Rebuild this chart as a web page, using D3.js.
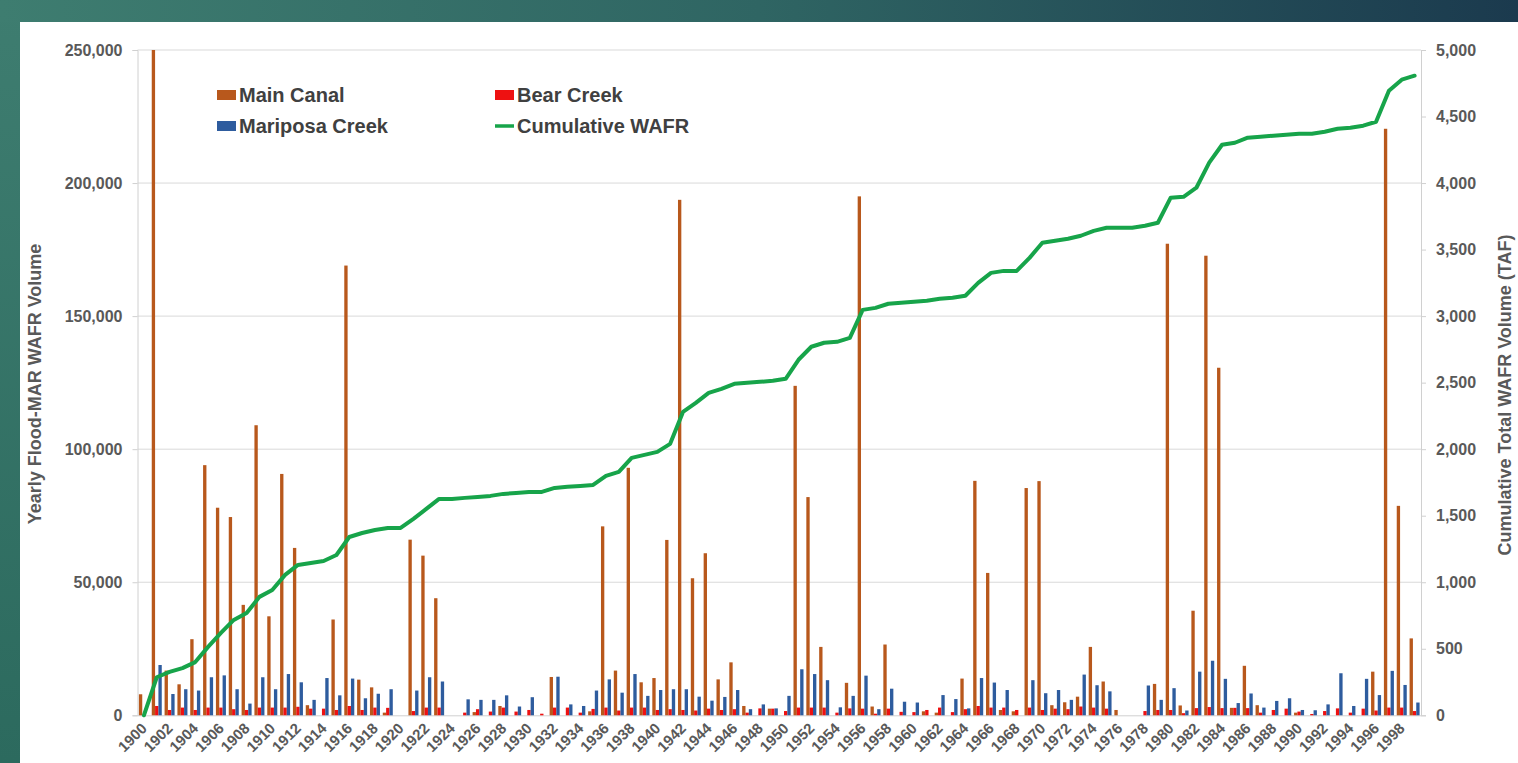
<!DOCTYPE html>
<html><head><meta charset="utf-8">
<script src="https://cdn.jsdelivr.net/npm/d3@7"></script>
<style>
html,body{margin:0;padding:0;background:#fff;overflow:hidden;}
svg{display:block;}
text{font-family:"Liberation Sans",Arial,sans-serif;font-weight:bold;}
</style></head><body>
<svg id="chart" width="1518" height="763"></svg>
<script>
const years = d3.range(1900, 2000);
const mainCanal = [
 7900,250000,16800,11650,28600,94000,78000,74500,41500,109000,
 37200,90700,62900,3800,0,36000,169000,13400,10500,1000,
 0,66000,60000,44000,0,0,1200,0,3500,0,
 0,0,14400,0,0,1500,71000,16800,93000,12400,
 14000,65900,193700,51500,60900,13500,19900,3500,0,2500,
 0,123800,82000,25700,0,12200,195000,3300,26600,0,
 0,1500,1000,0,13800,88100,53500,2000,1500,85400,
 88000,3800,4900,7000,25700,12700,2000,0,0,11800,
 177200,3700,39300,172700,130600,2800,18600,3800,0,0,
 1000,0,0,0,0,0,16400,220400,78700,28900];
const bearCreek = [
 0,3500,2000,2900,2000,2900,2900,2300,2000,2900,
 2900,2900,3200,2500,2500,2000,3500,2000,2900,2800,
 0,1600,2900,2900,0,1000,2300,1400,2900,1400,
 2000,600,2900,2900,1000,2400,2900,1800,2900,2900,
 2000,2300,2000,1800,2500,2000,2300,1000,2600,2500,
 1600,2900,2900,2900,1000,2600,2500,600,2500,1300,
 1200,2000,2900,1200,2300,3500,2900,2900,2000,2900,
 2000,2500,2300,3300,2900,2500,0,0,1600,2000,
 2000,800,2700,3100,2700,2800,2700,1000,2000,2500,
 1400,500,1600,2600,1000,2500,1800,2900,2900,1600];
const mariposaCreek = [
 0,18900,8000,9800,9300,14300,15000,9800,4400,14300,
 9800,15500,12400,5800,14000,7500,13800,6400,8100,9800,
 0,9300,14300,12700,0,6000,5800,5800,7500,3300,
 6800,0,14500,4100,3500,9300,13500,8500,15500,7300,
 9500,9800,9800,7000,5500,6900,9500,2300,4100,2600,
 7300,17300,15500,13200,3000,7300,14900,2300,10000,5100,
 4800,0,7600,6100,2600,14000,12300,9500,0,13200,
 8300,9500,5800,15300,11300,9000,0,0,11200,5800,
 10200,1800,16400,20500,13700,4600,8200,2900,5400,6400,
 2000,1900,4100,15800,3500,13700,7600,16700,11400,4800];
const cumulativeWAFR = [
 0,286,326,355,400,514,619,717,769,890,
 942,1055,1130,1145,1160,1205,1340,1370,1393,1408,
 1408,1476,1551,1626,1626,1634,1641,1649,1664,1671,
 1679,1679,1709,1717,1724,1731,1799,1829,1935,1957,
 1980,2040,2280,2348,2423,2453,2491,2499,2506,2514,
 2529,2672,2770,2800,2807,2837,3047,3062,3093,3100,
 3108,3115,3130,3138,3153,3250,3325,3340,3340,3438,
 3551,3566,3581,3604,3641,3664,3664,3664,3679,3702,
 3890,3897,3965,4153,4288,4303,4341,4348,4356,4363,
 4371,4371,4386,4408,4416,4431,4461,4694,4777,4807];
const leftTicks = [0,50000,100000,150000,200000,250000];
const rightTicks = [0,500,1000,1500,2000,2500,3000,3500,4000,4500,5000];
const xTickYears = years.filter(y => y % 2 === 0);
const seriesNames = ["Main Canal","Bear Creek","Mariposa Creek"];
const seriesData = [mainCanal, bearCreek, mariposaCreek];
const colors = {"Main Canal":"#b8581c","Bear Creek":"#ee1111","Mariposa Creek":"#2e5c9e","Cumulative WAFR":"#17a44a"};

const svg = d3.select("#chart");
const defs = svg.append("defs");
const gTop = defs.append("linearGradient").attr("id","gtop").attr("x1","0").attr("x2","1").attr("y1","0").attr("y2","0");
gTop.append("stop").attr("offset","0").attr("stop-color","#3e7d70");
gTop.append("stop").attr("offset","0.5").attr("stop-color","#2f6563");
gTop.append("stop").attr("offset","1").attr("stop-color","#1b3a4e");
const gLeft = defs.append("linearGradient").attr("id","gleft").attr("x1","0").attr("x2","0").attr("y1","0").attr("y2","1");
gLeft.append("stop").attr("offset","0").attr("stop-color","#3e7d70");
gLeft.append("stop").attr("offset","1").attr("stop-color","#2c6a5e");

svg.append("rect").attr("width",1518).attr("height",763).attr("fill","#ffffff");
svg.append("rect").attr("x",0).attr("y",0).attr("width",20).attr("height",763).attr("fill","url(#gleft)");
svg.append("rect").attr("x",0).attr("y",0).attr("width",1518).attr("height",22).attr("fill","url(#gtop)");

const P = {left:137.5, right:1421, top:50, bottom:715.3};
const x0 = d3.scaleBand().domain(years).range([P.left, P.right]).padding(0);
const bw = x0.bandwidth();
const x1 = d3.scaleBand().domain(seriesNames).range([0.11*bw, 0.89*bw]).padding(0);
const y = d3.scaleLinear().domain([0,250000]).range([P.bottom, P.top]);
const y2 = d3.scaleLinear().domain([0,5000]).range([P.bottom, P.top]);

// gridlines
svg.append("g").selectAll("line").data(leftTicks.filter(d=>d>0)).join("line")
  .attr("x1",P.left).attr("x2",P.right).attr("y1",d=>y(d)).attr("y2",d=>y(d))
  .attr("stroke","#d9d9d9").attr("stroke-width",1);

const FONT = "Liberation Sans, Arial, sans-serif";
// left axis
const axL = svg.append("g").attr("transform",`translate(${P.left},0)`)
  .call(d3.axisLeft(y).tickValues(leftTicks).tickSize(5).tickPadding(10).tickFormat(d3.format(",")));
axL.select(".domain").attr("stroke","#d0d0d0");
axL.selectAll(".tick line").attr("stroke","#d0d0d0");
axL.selectAll("text").attr("fill","#595959").style("font-size","16px").style("font-weight","bold").style("font-family",FONT);

// right axis
const axR = svg.append("g").attr("transform",`translate(${P.right},0)`)
  .call(d3.axisRight(y2).tickValues(rightTicks).tickSize(5).tickPadding(10).tickFormat(d3.format(",")));
axR.select(".domain").attr("stroke","#d0d0d0");
axR.selectAll(".tick line").attr("stroke","#d0d0d0");
axR.selectAll("text").attr("fill","#595959").style("font-size","16px").style("font-weight","bold").style("font-family",FONT);

// bottom axis
const axB = svg.append("g").attr("transform",`translate(0,${P.bottom})`)
  .call(d3.axisBottom(x0).tickValues(xTickYears).tickSize(0).tickPadding(0));
axB.select(".domain").attr("stroke","#d0d0d0");
axB.selectAll("text").attr("fill","#595959").style("font-size","15px").style("font-weight","bold")
  .style("font-family",FONT)
  .attr("text-anchor","end").attr("dy","0")
  .attr("transform","translate(4,14) rotate(-45)").attr("y",0).attr("x",0);

// bars
const barG = svg.append("g");
seriesNames.forEach((s,si)=>{
  barG.append("g").selectAll("rect").data(years.map((yr,i)=>({yr, v:seriesData[si][i]})).filter(d=>d.v>0)).join("rect")
    .attr("x",d=>x0(d.yr)+x1(s)).attr("width",x1.bandwidth())
    .attr("y",d=>y(Math.min(d.v,250000))).attr("height",d=>P.bottom-y(Math.min(d.v,250000)))
    .attr("fill",colors[s]);
});

// line
const line = d3.line().x((d,i)=>x0(years[i])+bw/2).y(d=>y2(d)).curve(d3.curveLinear);
svg.append("path").datum(cumulativeWAFR).attr("d",line).attr("fill","none")
  .attr("stroke",colors["Cumulative WAFR"]).attr("stroke-width",4).attr("stroke-linejoin","round").attr("stroke-linecap","round");

// axis titles
svg.append("text").attr("transform","translate(36,384) rotate(-90)").attr("text-anchor","middle")
  .attr("dominant-baseline","middle").attr("fill","#595959").style("font-size","18px").text("Yearly Flood-MAR WAFR Volume");
svg.append("text").attr("transform","translate(1506,395) rotate(-90)").attr("text-anchor","middle")
  .attr("dominant-baseline","middle").attr("fill","#595959").style("font-size","18px").text("Cumulative Total WAFR Volume (TAF)");

// legend
const legendItems = [
  {name:"Main Canal", x:217, y:95, type:"rect"},
  {name:"Bear Creek", x:495, y:95, type:"rect"},
  {name:"Mariposa Creek", x:217, y:126, type:"rect"},
  {name:"Cumulative WAFR", x:495, y:126, type:"line"}
];
const lg = svg.append("g");
legendItems.forEach(it=>{
  if(it.type==="rect"){
    lg.append("rect").attr("x",it.x).attr("y",it.y-5).attr("width",19).attr("height",10).attr("fill",colors[it.name]);
  } else {
    lg.append("line").attr("x1",it.x).attr("x2",it.x+19).attr("y1",it.y).attr("y2",it.y)
      .attr("stroke",colors[it.name]).attr("stroke-width",3.5);
  }
  lg.append("text").attr("x",it.x+22).attr("y",it.y).attr("dominant-baseline","central")
    .attr("fill","#404040").style("font-size","20px").text(it.name);
});
</script>
</body></html>
